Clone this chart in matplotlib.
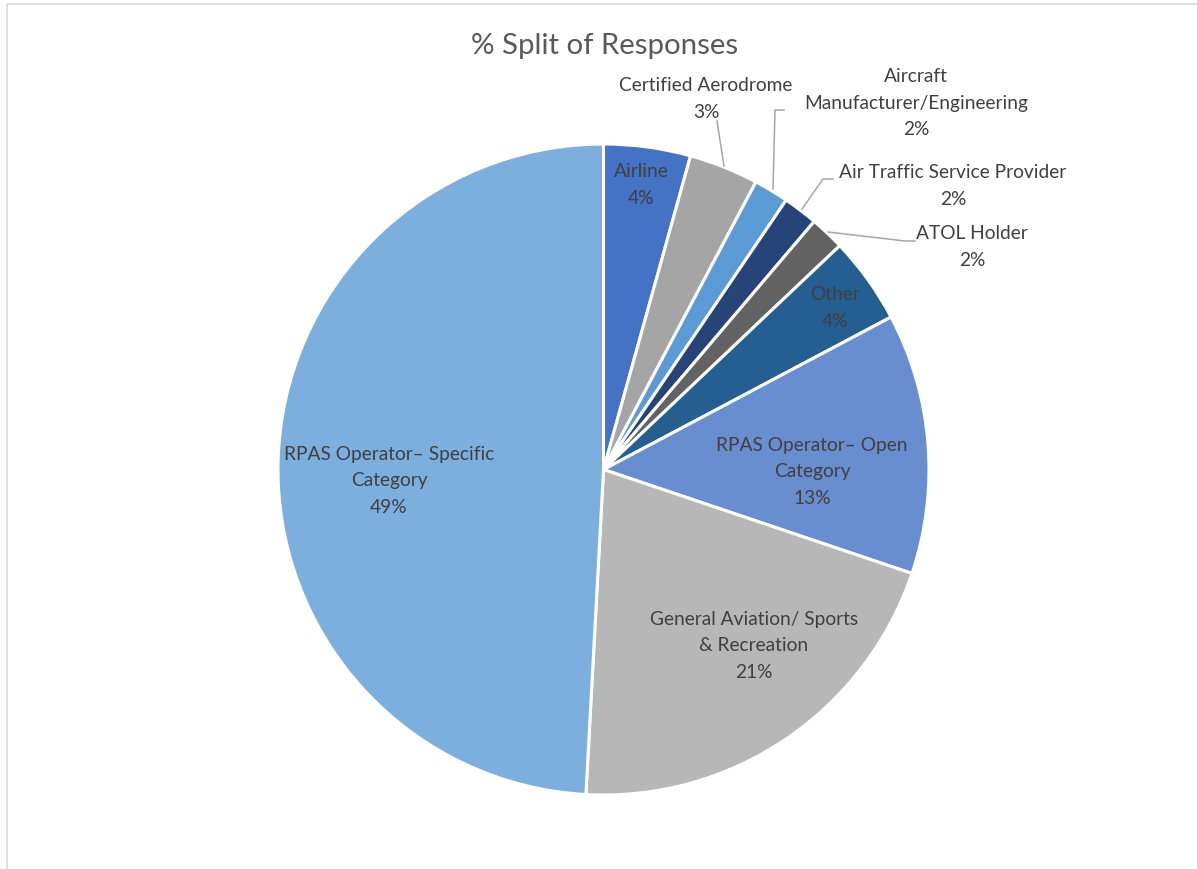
import matplotlib
matplotlib.use("Agg")
import matplotlib.pyplot as plt
from matplotlib.patches import Rectangle

plt.rcParams["font.family"] = ["Lato", "DejaVu Sans"]

# ── data ──────────────────────────────────────────────────────────────────
categories = ["Airline", "Certified Aerodrome", "Aircraft\nManufacturer/Engineering",
              "Air Traffic Service Provider", "ATOL Holder", "Other",
              "RPAS Operator\u2013 Open\nCategory", "General Aviation/ Sports\n& Recreation",
              "RPAS Operator\u2013 Specific\nCategory"]
responses = [5, 4, 2, 2, 2, 5, 15, 24, 57]
colors = ["#4472C4", "#A5A5A5", "#5B9BD5", "#264478", "#636363",
          "#255E91", "#698ED0", "#B7B7B7", "#7CAFDD"]

# label centres in pixels (x, y from top)
label_pos = [(641, 185), (706, 99), (916, 103), (953, 186), (972, 247),
             (835, 308), (812, 472), (754, 646), (389, 481)]
# leader lines (pixel polylines) for labels outside the pie
leaders = {
    1: [(717, 122), (724, 167)],
    2: [(784, 111), (775, 111), (773, 190)],
    3: [(833, 180), (823, 180), (802, 210)],
    4: [(915, 242), (905, 242), (828, 233)],
}

W, H = 1197, 870
fig = plt.figure(figsize=(W / 100, H / 100), dpi=100)

# pie axes: centre (603.5, 470.5), radius 325.5 px
cx, cy, R = 603.5, 470.5, 325.5
ax = fig.add_axes([(cx - R) / W, 1 - (cy + R) / H, 2 * R / W, 2 * R / H])
ax.pie(responses, colors=colors, startangle=90, counterclock=False,
       wedgeprops=dict(edgecolor="white", linewidth=2.2))
ax.set_xlim(-1, 1)
ax.set_ylim(-1, 1)
ax.set_aspect("equal")
ax.axis("off")

# overlay in pixel coordinates
ov = fig.add_axes([0, 0, 1, 1], facecolor="none")
ov.set_xlim(0, W)
ov.set_ylim(H, 0)
ov.axis("off")

ov.add_patch(Rectangle((7, 5), W + 20, H + 20, fill=False,
                       edgecolor="#D9D9D9", linewidth=1.2))

ov.text(605, 46, "% Split of Responses", ha="center", va="center",
        fontsize=21.2, color="#595959")

total = sum(responses)
for i, (name, val) in enumerate(zip(categories, responses)):
    x, y = label_pos[i]
    ov.text(x, y, f"{name}\n{val / total * 100:.0f}%", ha="center", va="center",
            fontsize=13.8, color="#404040", linespacing=1.66)

for pts in leaders.values():
    xs, ys = zip(*pts)
    ov.plot(xs, ys, color="#A6A6A6", linewidth=1.1)

fig.savefig("out.png", dpi=100, facecolor="white")
